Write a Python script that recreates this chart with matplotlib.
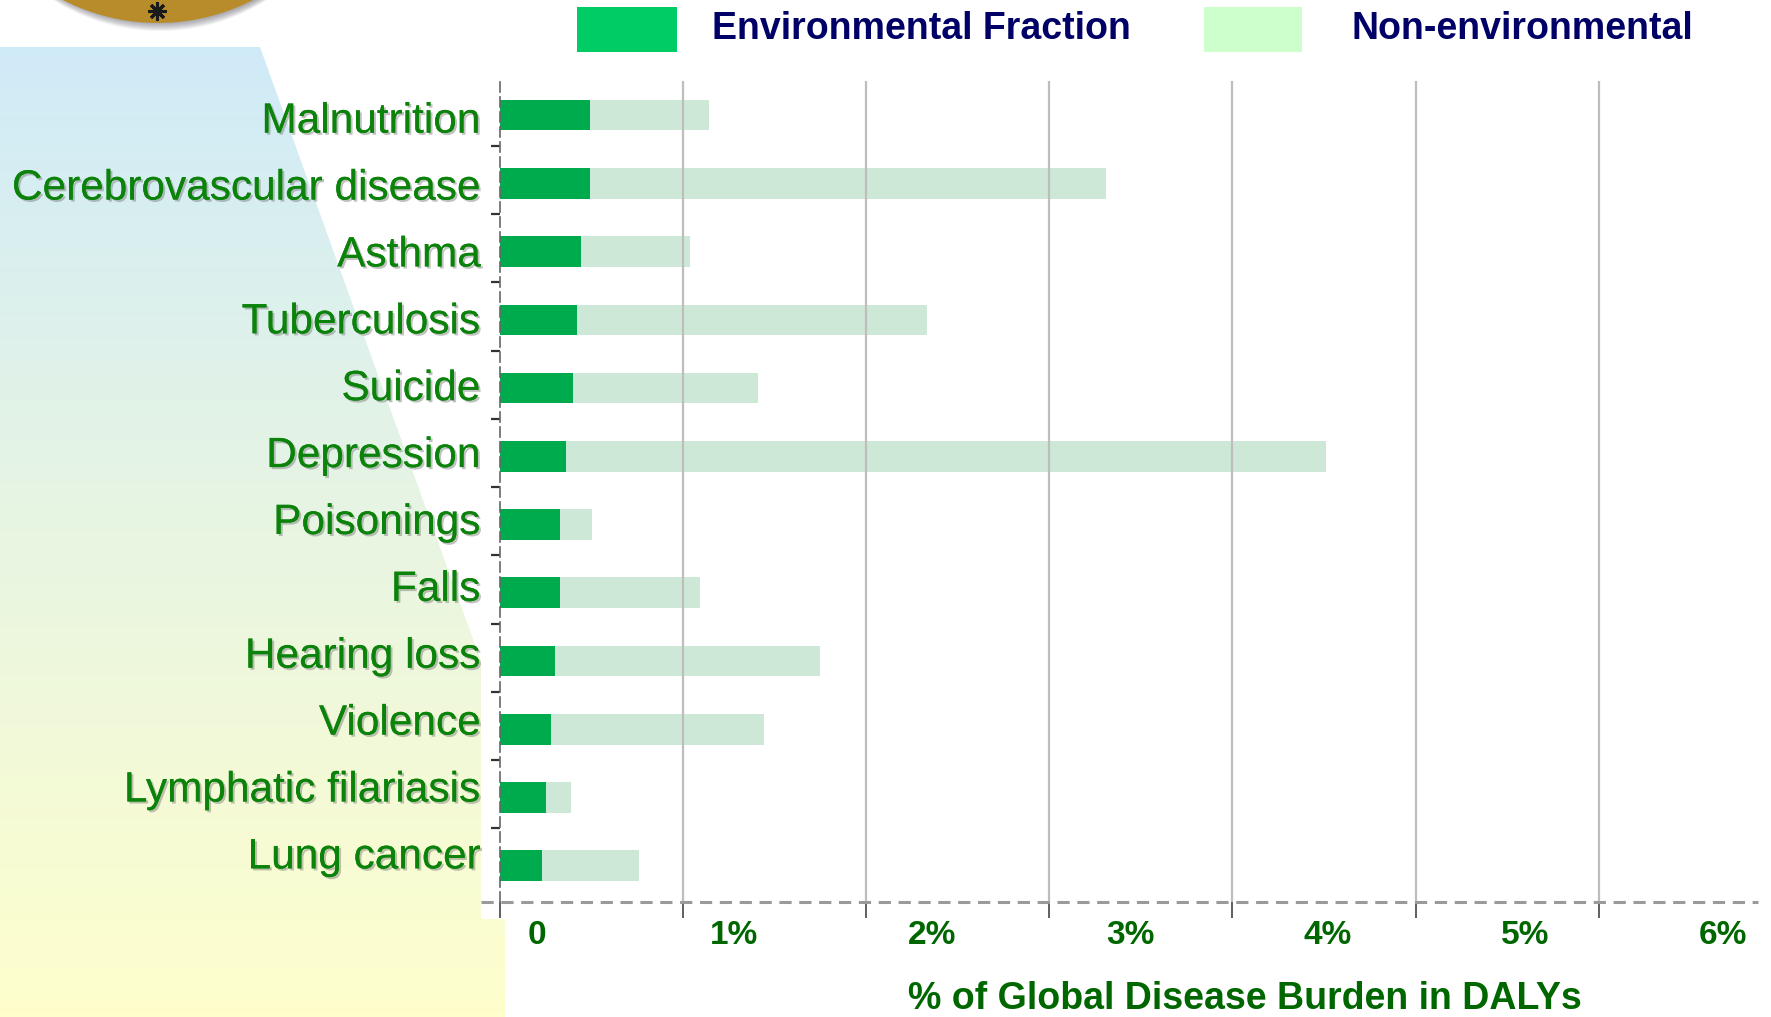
import matplotlib
matplotlib.use("Agg")
import matplotlib.pyplot as plt
import matplotlib.patheffects as pe
import numpy as np
from matplotlib.patches import Rectangle, Circle, Polygon
from matplotlib.transforms import blended_transform_factory

plt.rcParams["font.family"] = ["Liberation Sans", "DejaVu Sans"]

# data (% of global disease burden in DALYs)
diseases = ["Malnutrition", "Cerebrovascular disease", "Asthma", "Tuberculosis",
            "Suicide", "Depression", "Poisonings", "Falls", "Hearing loss",
            "Violence", "Lymphatic filariasis", "Lung cancer"]
environmental = [0.49, 0.49, 0.44, 0.42, 0.40, 0.36, 0.33, 0.33, 0.30, 0.28, 0.25, 0.23]
non_environmental = [0.65, 2.82, 0.60, 1.91, 1.01, 4.15, 0.17, 0.76, 1.45, 1.16, 0.14, 0.53]
x_ticks = [0, 1, 2, 3, 4, 5, 6]
x_tick_labels = ["0", "1%", "2%", "3%", "4%", "5%", "6%"]

W, H = 1771, 1017
fig = plt.figure(figsize=(W / 100, H / 100), dpi=100)

# slide background, in pixel coordinates
bg = fig.add_axes([0, 0, 1, 1], zorder=0)
bg.axis("off")

top_col = np.array([208, 235, 248]) / 255
bot_col = np.array([255, 255, 204]) / 255
t = np.linspace(0, 1, 256)[:, None, None]
grad = top_col * (1 - t) + bot_col * t
panel = Polygon([(0, 47), (260, 47), (505, 728), (505, H), (0, H)],
                closed=True, facecolor="none", edgecolor="none")
bg.add_patch(panel)
im = bg.imshow(grad, extent=(0, 520, H, 47), aspect="auto", zorder=1)
im.set_clip_path(panel)
bg.set_xlim(0, W)
bg.set_ylim(H, 0)

bg.add_patch(Rectangle((481, 60), W - 481, 859, facecolor="white",
                       edgecolor="none", zorder=2))

# logo disc with soft shadow
for k in range(8):
    bg.add_patch(Circle((160, -185 + 3 + k * 2.0), 206 - k * 1.0,
                        facecolor="#333344", edgecolor="none", alpha=0.06, zorder=3))
bg.add_patch(Circle((158, -185), 208, facecolor="#B88C2A", edgecolor="none", zorder=4))
bg.plot(157, 11, marker=(8, 2, 0), ms=13, mew=2.2, color="#1a1a1a", zorder=5)
bg.plot(157, 11, marker="o", ms=4, color="#1a1a1a", zorder=5)

# legend
bg.add_patch(Rectangle((577, 7), 100, 45, facecolor="#00CC66", edgecolor="none", zorder=3))
bg.text(712, 29, "Environmental Fraction", fontsize=27, fontweight="bold",
        color="#000066", va="center", ha="left", zorder=3)
bg.add_patch(Rectangle((1204, 7), 98, 45, facecolor="#CCFFCC", edgecolor="none", zorder=3))
bg.text(1352, 29, "Non-environmental", fontsize=27, fontweight="bold",
        color="#000066", va="center", ha="left", zorder=3)

# chart
ax = fig.add_axes([500 / W, 1 - 902 / H, 1258 / W, (902 - 81) / H], zorder=1)
ax.set_facecolor("none")
y = np.arange(len(diseases))
ax.barh(y, environmental, height=0.45, color="#00AB4E", zorder=2)
ax.barh(y, non_environmental, left=environmental, height=0.45, color="#CDE8D6", zorder=2)

for v in x_ticks[1:]:
    ax.axvline(v, color="#BDBDBD", lw=1.6, zorder=3)

ax.set_xlim(0, 6.87)
ax.set_ylim(11.53, -0.5)

# labels sit slightly higher than the bars further down the list
ax.set_yticks(y * 0.98 + 0.03)
ax.set_yticklabels(diseases, fontsize=30.5, color="#0B830B")
for lbl in ax.get_yticklabels():
    lbl.set_path_effects([pe.withSimplePatchShadow(offset=(1.5, -1.5),
                                                   shadow_rgbFace="#777777", alpha=0.45),
                          pe.Normal()])
ax.set_yticks(y[:-1] + 0.45, minor=True)
ax.tick_params(axis="y", which="major", length=0, pad=14)
ax.tick_params(axis="y", which="minor", length=6.5, width=1.6, color="#333333")

ax.set_xticks(x_ticks)
ax.set_xticklabels([])
ax.tick_params(axis="x", which="major", length=11.5, width=1.2, color="#444444")

tr = blended_transform_factory(ax.transData, fig.transFigure)
for i, s in enumerate(x_tick_labels):
    ax.text(i * 1.08 + 0.2, 1 - 935 / H, s, transform=tr, ha="center", va="center",
            fontsize=24, fontweight="bold", color="#006600", clip_on=False)

fig.text(1245 / W, 1 - 999 / H, "% of Global Disease Burden in DALYs", ha="center",
         va="center", fontsize=27, fontweight="bold", color="#006600")

for s in ["top", "right", "bottom"]:
    ax.spines[s].set_visible(False)
ax.spines["left"].set_color("#666666")
ax.spines["left"].set_linewidth(1.2)
ax.spines["left"].set_linestyle((0, (6, 3)))
ax.axhline(11.53, xmin=-19 / 1258, xmax=1, color="#9A9A9A", lw=2.2,
           ls=(0, (4, 2.5)), clip_on=False, zorder=4)

fig.savefig("out.png", dpi=100)
